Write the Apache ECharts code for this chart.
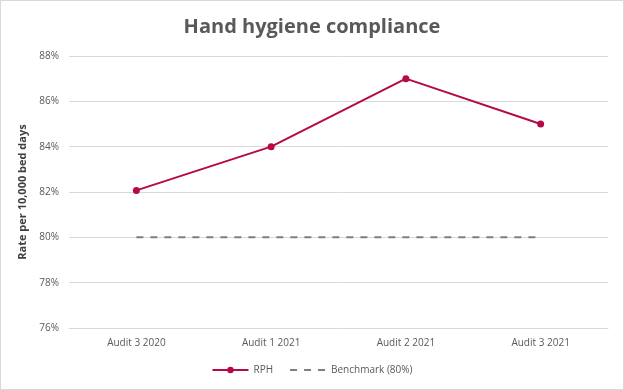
<!DOCTYPE html>
<html><head><meta charset="utf-8">
<script src="https://cdn.jsdelivr.net/npm/echarts@6/dist/echarts.min.js"></script>
<style>html,body{margin:0;padding:0;background:#fff}#c{width:622px;height:388px;border:1px solid #d9d9d9}</style>
</head><body><div id="c"></div>
<script>
const categories = ['Audit 3 2020','Audit 1 2021','Audit 2 2021','Audit 3 2021'];
const rph = [82.07, 84, 87, 85];
const benchmark = [80, 80, 80, 80];
const chart = echarts.init(document.getElementById('c'));
const font = "'Open Sans', 'Liberation Sans', sans-serif";
chart.setOption({
  animation:false,
  title:{text:'Hand hygiene compliance',left:'center',top:11,textStyle:{fontFamily:font,fontSize:20,fontWeight:'bold',color:'#595959'}},
  grid:{left:68,right:15,top:55,bottom:61},
  xAxis:{type:'category',data:categories,boundaryGap:true,axisLine:{lineStyle:{color:'#d9d9d9'}},axisTick:{show:false},
    axisLabel:{color:'#595959',fontFamily:font,fontSize:10,margin:10}},
  yAxis:{type:'value',min:76,max:88,interval:2,axisLine:{show:false},axisTick:{show:false},
    splitLine:{lineStyle:{color:'#d9d9d9'}},
    axisLabel:{formatter:'{value}%',color:'#595959',fontFamily:font,fontSize:10,margin:10},
    name:'Rate per 10,000 bed days',nameLocation:'middle',nameGap:41,nameMoveOverlap:false,nameTextStyle:{color:'#404040',fontFamily:font,fontSize:11,fontWeight:'bold'}},
  legend:{bottom:9,left:'center',itemGap:16,itemWidth:36,itemHeight:8,textStyle:{color:'#595959',fontFamily:font,fontSize:10},
    data:['RPH',{name:'Benchmark (80%)',itemStyle:{opacity:0}}]},
  series:[
    {name:'RPH',type:'line',data:rph,symbol:'circle',symbolSize:7,lineStyle:{color:'#b5094a',width:2},itemStyle:{color:'#b5094a'}},
    {name:'Benchmark (80%)',type:'line',data:benchmark,symbol:'none',lineStyle:{color:'#7f7f7f',width:2,type:[7,7]},itemStyle:{color:'#7f7f7f'}}
  ]
});
</script></body></html>
